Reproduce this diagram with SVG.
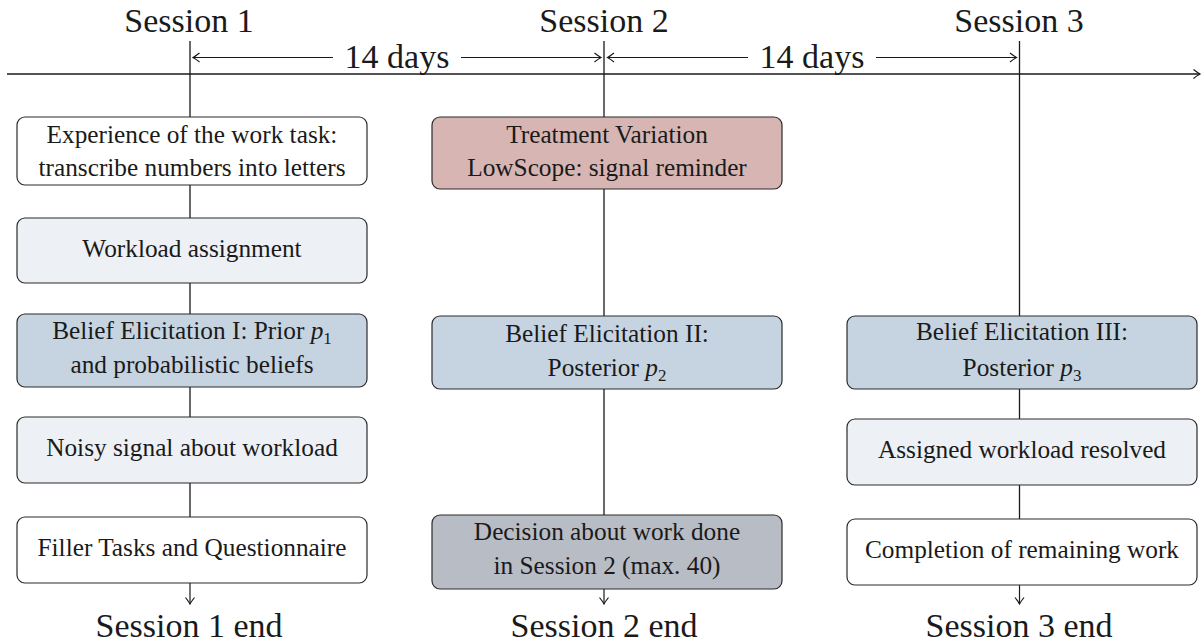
<svg xmlns="http://www.w3.org/2000/svg" width="1203" height="644" viewBox="0 0 1203 644">
<defs>
<style>
.title{font-size:34px}
.lbl{font-size:25.3px}
.box{stroke:#2b2b2b;stroke-width:1.2}
.white{fill:#ffffff}
.light{fill:#edf0f5}
.belief{fill:#c6d4e2}
.treat{fill:#d7b5b3}
.dec{fill:#b8bcc5}
.ln{stroke:#1a1a1a;stroke-width:1.3;fill:none}
.axis{stroke:#1a1a1a;stroke-width:1.7;fill:none}
.dim{stroke:#1a1a1a;stroke-width:1.2;fill:none}
.sub{font-size:17px}
</style>
<marker id="to" viewBox="-8 -6 10 12" markerWidth="10" markerHeight="12" refX="0" refY="0" orient="auto-start-reverse" markerUnits="userSpaceOnUse">
<path d="M-6.5,-4.5 Q-2,-1 0,0 Q-2,1 -6.5,4.5" fill="none" stroke="#1a1a1a" stroke-width="1.2"/>
</marker>
</defs>
<rect width="1203" height="644" fill="#ffffff"/>

<g id="timeline">
<text class="title" font-family="Liberation Serif" text-anchor="middle" fill="#1a1a1a" x="189" y="32">Session 1</text>
<text class="title" font-family="Liberation Serif" text-anchor="middle" fill="#1a1a1a" x="604" y="32">Session 2</text>
<text class="title" font-family="Liberation Serif" text-anchor="middle" fill="#1a1a1a" x="1019" y="32">Session 3</text>
<text class="title" font-family="Liberation Serif" text-anchor="middle" fill="#1a1a1a" x="397" y="68">14 days</text>
<text class="title" font-family="Liberation Serif" text-anchor="middle" fill="#1a1a1a" x="812" y="68">14 days</text>
<text class="title" font-family="Liberation Serif" text-anchor="middle" fill="#1a1a1a" x="189" y="637">Session 1 end</text>
<text class="title" font-family="Liberation Serif" text-anchor="middle" fill="#1a1a1a" x="604" y="637">Session 2 end</text>
<text class="title" font-family="Liberation Serif" text-anchor="middle" fill="#1a1a1a" x="1019" y="637">Session 3 end</text>
</g>

<g id="connectors">
<line class="axis" x1="7" y1="74" x2="1200" y2="74" marker-end="url(#to)"/>
<line class="dim" x1="193" y1="57.5" x2="333" y2="57.5" marker-start="url(#to)"/>
<line class="dim" x1="461" y1="57.5" x2="601" y2="57.5" marker-end="url(#to)"/>
<line class="dim" x1="607.5" y1="57.5" x2="748" y2="57.5" marker-start="url(#to)"/>
<line class="dim" x1="876" y1="57.5" x2="1016.5" y2="57.5" marker-end="url(#to)"/>
<line class="ln" x1="190" y1="41" x2="190" y2="117"/>
<line class="ln" x1="190" y1="185" x2="190" y2="218"/>
<line class="ln" x1="190" y1="283" x2="190" y2="314"/>
<line class="ln" x1="190" y1="387" x2="190" y2="417"/>
<line class="ln" x1="190" y1="483" x2="190" y2="517"/>
<line class="dim" x1="190" y1="583" x2="190" y2="604" marker-end="url(#to)"/>
<line class="ln" x1="604" y1="41" x2="604" y2="117"/>
<line class="ln" x1="604" y1="189" x2="604" y2="316"/>
<line class="ln" x1="604" y1="389" x2="604" y2="515"/>
<line class="dim" x1="604" y1="589" x2="604" y2="604" marker-end="url(#to)"/>
<line class="ln" x1="1019.5" y1="41" x2="1019.5" y2="316"/>
<line class="ln" x1="1019.5" y1="389" x2="1019.5" y2="419"/>
<line class="ln" x1="1019.5" y1="485" x2="1019.5" y2="519"/>
<line class="dim" x1="1019.5" y1="585" x2="1019.5" y2="604" marker-end="url(#to)"/>
</g>

<g id="experience">
<rect class="box white" x="17" y="117" width="350" height="68" rx="8"/>
<text class="lbl" font-family="Liberation Serif" text-anchor="middle" fill="#1a1a1a" x="192" y="143">Experience of the work task:</text>
<text class="lbl" font-family="Liberation Serif" text-anchor="middle" fill="#1a1a1a" x="192" y="176">transcribe numbers into letters</text>
</g>
<g id="workload">
<rect class="box light" x="17" y="218" width="350" height="65" rx="8"/>
<text class="lbl" font-family="Liberation Serif" text-anchor="middle" fill="#1a1a1a" x="192" y="257">Workload assignment</text>
</g>
<g id="belief1">
<rect class="box belief" x="17" y="314" width="350" height="73" rx="8"/>
<text class="lbl" font-family="Liberation Serif" text-anchor="middle" fill="#1a1a1a" x="192" y="339">Belief Elicitation I: Prior <tspan font-style="italic">p</tspan><tspan class="sub" dy="5">1</tspan></text>
<text class="lbl" font-family="Liberation Serif" text-anchor="middle" fill="#1a1a1a" x="192" y="373">and probabilistic beliefs</text>
</g>
<g id="noisy">
<rect class="box light" x="17" y="417" width="350" height="66" rx="8"/>
<text class="lbl" font-family="Liberation Serif" text-anchor="middle" fill="#1a1a1a" x="192" y="456">Noisy signal about workload</text>
</g>
<g id="filler">
<rect class="box white" x="17" y="517" width="350" height="66" rx="8"/>
<text class="lbl" font-family="Liberation Serif" text-anchor="middle" fill="#1a1a1a" x="192" y="556">Filler Tasks and Questionnaire</text>
</g>

<g id="treatment">
<rect class="box treat" x="432" y="117" width="350" height="72" rx="8"/>
<text class="lbl" font-family="Liberation Serif" text-anchor="middle" fill="#1a1a1a" x="607" y="143">Treatment Variation</text>
<text class="lbl" font-family="Liberation Serif" text-anchor="middle" fill="#1a1a1a" x="607" y="176">LowScope:  signal reminder</text>
</g>
<g id="belief2">
<rect class="box belief" x="432" y="316" width="350" height="73" rx="8"/>
<text class="lbl" font-family="Liberation Serif" text-anchor="middle" fill="#1a1a1a" x="607" y="342">Belief Elicitation II:</text>
<text class="lbl" font-family="Liberation Serif" text-anchor="middle" fill="#1a1a1a" x="607" y="376">Posterior <tspan font-style="italic">p</tspan><tspan class="sub" dy="5">2</tspan></text>
</g>
<g id="decision">
<rect class="box dec" x="432" y="515" width="350" height="74" rx="8"/>
<text class="lbl" font-family="Liberation Serif" text-anchor="middle" fill="#1a1a1a" x="607" y="540">Decision about work done</text>
<text class="lbl" font-family="Liberation Serif" text-anchor="middle" fill="#1a1a1a" x="607" y="574">in Session 2 (max. 40)</text>
</g>

<g id="belief3">
<rect class="box belief" x="847" y="316" width="350" height="73" rx="8"/>
<text class="lbl" font-family="Liberation Serif" text-anchor="middle" fill="#1a1a1a" x="1022" y="340">Belief Elicitation III:</text>
<text class="lbl" font-family="Liberation Serif" text-anchor="middle" fill="#1a1a1a" x="1022" y="376">Posterior <tspan font-style="italic">p</tspan><tspan class="sub" dy="5">3</tspan></text>
</g>
<g id="assigned">
<rect class="box light" x="847" y="419" width="350" height="66" rx="8"/>
<text class="lbl" font-family="Liberation Serif" text-anchor="middle" fill="#1a1a1a" x="1022" y="458">Assigned workload resolved</text>
</g>
<g id="completion">
<rect class="box white" x="847" y="519" width="350" height="66" rx="8"/>
<text class="lbl" font-family="Liberation Serif" text-anchor="middle" fill="#1a1a1a" x="1022" y="558">Completion of remaining work</text>
</g>
</svg>
